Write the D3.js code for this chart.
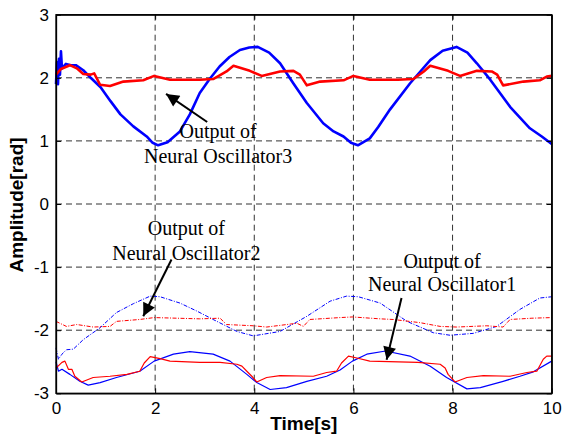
<!DOCTYPE html>
<html>
<head>
<meta charset="utf-8">
<script src="https://cdn.jsdelivr.net/npm/d3@7"></script>
<style>
  body { margin: 0; background: #fff; }
</style>
</head>
<body>
<div id="chart"></div>
<script>
// time ticks and amplitude ticks
var xTicks = [0, 2, 4, 6, 8, 10]
var yTicks = [-3, -2, -1, 0, 1, 2, 3]

// Neural Oscillator3 (thick lines)
var osc3Blue = [[0,1.9],[0.02,2.25],[0.04,1.9],[0.06,2.3],[0.08,2.05],[0.1,2.42],[0.12,2.15],[0.2,2.22],[0.3,2.2],[0.4,2.2],[0.55,2.12],[0.7,2.0],[0.9,1.85],[1.1,1.63],[1.3,1.42],[1.56,1.23],[1.83,1.07],[1.95,0.97],[2.06,0.93],[2.25,0.98],[2.5,1.15],[2.7,1.42],[2.9,1.76],[3.1,1.98],[3.3,2.18],[3.5,2.33],[3.71,2.44],[3.9,2.48],[4.07,2.49],[4.3,2.4],[4.52,2.23],[4.79,1.91],[5.06,1.6],[5.39,1.28],[5.6,1.15],[5.8,1.07],[5.95,0.97],[6.09,0.93],[6.33,1.04],[6.5,1.22],[6.74,1.5],[7.14,1.91],[7.35,2.1],[7.55,2.28],[7.8,2.43],[8.08,2.49],[8.3,2.4],[8.49,2.23],[8.76,1.97],[9.16,1.54],[9.56,1.2],[9.8,1.07],[10,0.95]]
var osc3Red = [[0,2.05],[0.1,2.14],[0.28,2.2],[0.42,2.15],[0.55,2.06],[0.7,2.05],[0.77,2.07],[0.89,1.89],[1.09,1.87],[1.36,1.94],[1.76,1.96],[1.98,2.03],[2.3,1.97],[2.9,1.97],[3.17,1.98],[3.44,2.1],[3.58,2.19],[3.91,2.11],[4.15,2.03],[4.52,2.1],[4.79,2.11],[4.92,2.05],[5.06,1.88],[5.33,1.94],[5.8,1.96],[6.0,2.03],[6.33,1.97],[6.9,1.97],[7.21,1.98],[7.42,2.1],[7.55,2.19],[7.91,2.11],[8.15,2.03],[8.49,2.11],[8.79,2.1],[8.9,2.05],[9.02,1.88],[9.43,1.94],[9.76,1.96],[9.9,2.02],[10,2.03]]

// Neural Oscillator2 (dash-dot lines)
var osc2Blue = [[0,-2.28],[0.05,-2.46],[0.12,-2.38],[0.21,-2.31],[0.35,-2.3],[0.55,-2.15],[0.89,-1.96],[1.22,-1.72],[1.56,-1.58],[1.9,-1.46],[2.1,-1.47],[2.5,-1.57],[2.85,-1.7],[3.17,-1.83],[3.65,-2.02],[3.98,-2.09],[4.52,-2.02],[5.06,-1.78],[5.53,-1.54],[5.86,-1.46],[6.1,-1.47],[6.54,-1.57],[7.08,-1.86],[7.61,-2.04],[7.95,-2.08],[8.42,-2.05],[8.89,-1.94],[9.36,-1.67],[9.76,-1.49],[10,-1.47]]
var osc2Red = [[0,-1.86],[0.21,-1.94],[0.42,-1.91],[0.75,-1.95],[1.09,-1.94],[1.22,-1.86],[1.69,-1.83],[1.98,-1.8],[2.9,-1.82],[3.31,-1.81],[3.44,-1.91],[3.98,-1.93],[4.25,-1.95],[4.86,-1.89],[4.99,-1.94],[5.12,-1.83],[5.73,-1.8],[5.98,-1.79],[6.54,-1.82],[6.8,-1.83],[7.34,-1.88],[7.75,-1.94],[8.08,-1.95],[8.69,-1.93],[9.02,-1.95],[9.16,-1.83],[9.6,-1.81],[10,-1.8]]

// Neural Oscillator1 (thin solid lines)
var osc1Blue = [[0,-2.5],[0.05,-2.65],[0.12,-2.62],[0.28,-2.7],[0.48,-2.81],[0.65,-2.87],[0.89,-2.83],[1.22,-2.75],[1.69,-2.65],[1.98,-2.49],[2.37,-2.38],[2.7,-2.34],[3.17,-2.38],[3.51,-2.49],[3.85,-2.7],[4.05,-2.83],[4.32,-2.94],[4.65,-2.91],[5.06,-2.81],[5.46,-2.73],[5.73,-2.63],[5.98,-2.49],[6.27,-2.38],[6.65,-2.33],[7.14,-2.41],[7.55,-2.57],[7.88,-2.75],[8.29,-2.93],[8.56,-2.91],[9.02,-2.81],[9.36,-2.73],[9.63,-2.66],[10,-2.49]]
var osc1Red = [[0,-2.6],[0.12,-2.51],[0.18,-2.49],[0.25,-2.62],[0.32,-2.62],[0.38,-2.73],[0.52,-2.82],[0.75,-2.75],[1.09,-2.73],[1.43,-2.7],[1.69,-2.65],[1.78,-2.52],[1.9,-2.42],[2.1,-2.45],[2.3,-2.49],[2.9,-2.51],[3.31,-2.51],[3.65,-2.54],[3.75,-2.57],[3.85,-2.65],[3.95,-2.73],[4.05,-2.82],[4.25,-2.75],[4.52,-2.72],[5.19,-2.73],[5.46,-2.67],[5.66,-2.65],[5.76,-2.52],[5.9,-2.41],[6.07,-2.44],[6.33,-2.49],[7.3,-2.51],[7.75,-2.54],[7.85,-2.6],[7.91,-2.7],[8.05,-2.82],[8.29,-2.75],[8.62,-2.72],[9.16,-2.73],[9.5,-2.67],[9.7,-2.65],[9.83,-2.46],[9.9,-2.41],[10,-2.41]]

// annotations: text lines, label centre / baselines, arrow tail -> tip (data units)
var labels = [
  { lines: ["Output of", "Neural Oscillator3"], t: 3.27, y: [1.04, 0.65], from: [3.05, 1.3], to: [2.22, 1.745] },
  { lines: ["Output of", "Neural Oscillator2"], t: 2.63, y: [-0.49, -0.88], from: [2.33, -0.88], to: [1.76, -1.78] },
  { lines: ["Output of", "Neural Oscillator1"], t: 7.79, y: [-1.01, -1.38], from: [6.97, -1.49], to: [6.67, -2.47] }
]

var margin = {top: 14.7, right: 19.3, bottom: 45.7, left: 56},
    width = 571 - margin.left - margin.right,
    height = 439 - margin.top - margin.bottom;

var svg = d3.select("#chart")
  .append("svg")
    .attr("width", 571)
    .attr("height", 439)
    .style("background", "#fff")
  .append("g")
    .attr("transform", "translate(" + margin.left + "," + margin.top + ")");

var x = d3.scaleLinear().domain([0, 10]).range([0, width])
var y = d3.scaleLinear().domain([-3, 3]).range([height, 0])

// plain "-3" style labels (hyphen, no decimals)
var fmt = function(d) { return String(d) }

// dashed grid
svg.append("g")
  .selectAll("line")
  .data(xTicks.slice(1, -1))
  .enter().append("line")
    .attr("x1", function(d) { return x(d) }).attr("x2", function(d) { return x(d) })
    .attr("y1", 0).attr("y2", height)
    .attr("stroke", "#333").attr("stroke-width", 1).attr("stroke-dasharray", "6,4")
svg.append("g")
  .selectAll("line")
  .data(yTicks.slice(1, -1))
  .enter().append("line")
    .attr("x1", 0).attr("x2", width)
    .attr("y1", function(d) { return y(d) }).attr("y2", function(d) { return y(d) })
    .attr("stroke", "#333").attr("stroke-width", 1).attr("stroke-dasharray", "6,4")

var line = d3.line()
  .x(function(d) { return x(d[0]) })
  .y(function(d) { return y(d[1]) })

// series
var series = [
  { data: osc2Blue, color: "#0000ff", w: 1, dash: "4,1.5,1,1.5" },
  { data: osc2Red,  color: "#ff0000", w: 1, dash: "4,1.5,1,1.5" },
  { data: osc1Blue, color: "#0000ff", w: 1.2, dash: null },
  { data: osc1Red,  color: "#ff0000", w: 1.2, dash: null },
  { data: osc3Blue, color: "#0000ff", w: 2.6, dash: null },
  { data: osc3Red,  color: "#ff0000", w: 2.6, dash: null }
]
svg.append("g")
  .selectAll("path")
  .data(series)
  .enter().append("path")
    .attr("d", function(d) { return line(d.data) })
    .attr("fill", "none")
    .attr("stroke", function(d) { return d.color })
    .attr("stroke-width", function(d) { return d.w })
    .attr("stroke-dasharray", function(d) { return d.dash })
    .attr("stroke-linejoin", "round")

// axes (ticks inside, like matlab)
svg.append("g")
  .attr("transform", "translate(0," + height + ")")
  .call(d3.axisBottom(x).tickValues(xTicks).tickFormat(fmt).tickSize(-5).tickPadding(9).tickSizeOuter(0))
svg.append("g")
  .call(d3.axisTop(x).tickValues(xTicks).tickSize(-5).tickFormat("").tickSizeOuter(0))
svg.append("g")
  .call(d3.axisLeft(y).tickValues(yTicks).tickFormat(fmt).tickSize(-5).tickPadding(7).tickSizeOuter(0))
svg.append("g")
  .attr("transform", "translate(" + width + ",0)")
  .call(d3.axisRight(y).tickValues(yTicks).tickSize(-5).tickFormat("").tickSizeOuter(0))

svg.selectAll(".tick text")
  .style("font-family", "Arial, 'Liberation Sans', sans-serif")
  .style("font-size", "17px")
  .attr("fill", "#000")
svg.selectAll(".domain").attr("stroke", "#000").attr("stroke-width", 1.3)
svg.selectAll(".tick line").attr("stroke", "#000")

// box
svg.append("rect")
  .attr("x", 0).attr("y", 0).attr("width", width).attr("height", height)
  .attr("fill", "none").attr("stroke", "#000").attr("stroke-width", 1.3)

// axis titles
svg.append("text")
  .attr("text-anchor", "middle")
  .attr("x", width / 2)
  .attr("y", height + 37)
  .style("font-family", "Arial, 'Liberation Sans', sans-serif")
  .style("font-weight", "bold")
  .style("font-size", "19px")
  .text("Time[s]")
svg.append("text")
  .attr("text-anchor", "middle")
  .attr("transform", "rotate(-90)")
  .attr("x", -(205 - margin.top))
  .attr("y", -margin.left + 23)
  .style("font-family", "Arial, 'Liberation Sans', sans-serif")
  .style("font-weight", "bold")
  .style("font-size", "19px")
  .text("Amplitude[rad]")

// annotations with arrows
svg.append("defs").append("marker")
  .attr("id", "head")
  .attr("viewBox", "0 0 10 10")
  .attr("refX", 10).attr("refY", 5)
  .attr("markerWidth", 17).attr("markerHeight", 13)
  .attr("markerUnits", "userSpaceOnUse")
  .attr("orient", "auto")
  .append("path")
    .attr("d", "M0,0 L10,5 L0,10 Z")
    .attr("fill", "#000")

labels.forEach(function(l) {
  svg.append("line")
    .attr("x1", x(l.from[0])).attr("y1", y(l.from[1]))
    .attr("x2", x(l.to[0])).attr("y2", y(l.to[1]))
    .attr("stroke", "#000").attr("stroke-width", 2)
    .attr("marker-end", "url(#head)")
  l.lines.forEach(function(s, i) {
    svg.append("text")
      .attr("text-anchor", "middle")
      .attr("x", x(l.t))
      .attr("y", y(l.y[i]))
      .style("font-family", "'Liberation Serif', 'Times New Roman', serif")
      .style("font-size", "20px")
      .attr("fill", "#000")
      .text(s)
  })
})
</script>
</body>
</html>
